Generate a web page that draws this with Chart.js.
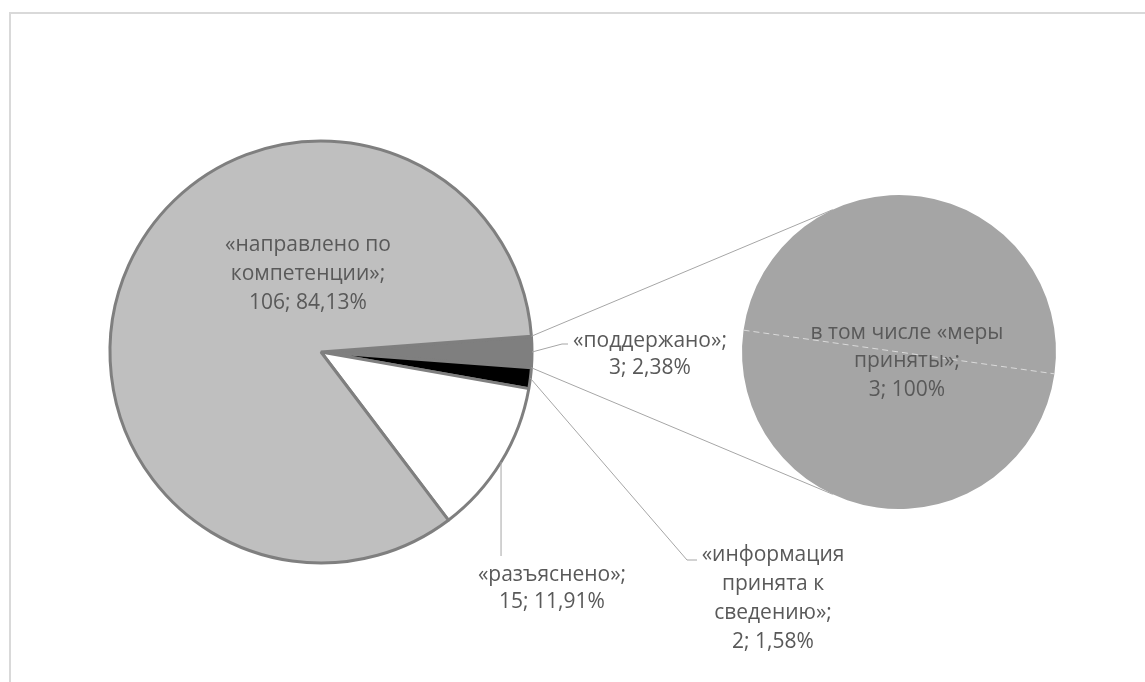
<!DOCTYPE html>
<html><head><meta charset="utf-8">
<script src="https://cdn.jsdelivr.net/npm/chart.js@4.4.0/dist/chart.umd.min.js"></script>
<style>
html,body{margin:0;padding:0;background:#fff;}
#wrap{position:relative;width:1145px;height:682px;overflow:hidden;background:#fff;}
#frame{position:absolute;left:9px;top:12px;width:1300px;height:800px;border-top:2px solid #d9d9d9;border-left:2px solid #d9d9d9;}
.layer{position:absolute;left:0;top:0;width:1145px;height:682px;pointer-events:none;}
canvas{display:block;}
</style></head><body>
<div id="wrap"><div id="frame"></div>
<div class="layer"><canvas id="mainPie"></canvas></div>
<div class="layer"><canvas id="subPie"></canvas></div>
</div>
<script>
// ---- data ----
const categories = ['«поддержано»;', '«информация принята к сведению»;', '«разъяснено»;', '«направлено по компетенции»;'];
const values = [3, 2, 15, 106];
const percentLabels = ['2,38%', '1,58%', '11,91%', '84,13%'];
const subCategories = ['в том числе «меры приняты»;'];
const subValues = [3];
const subPercentLabels = ['100%'];

// ---- styles / layout ----
const sliceColors = ['#7f7f7f', '#000000', '#ffffff', '#bfbfbf'];
const subColor = '#a5a5a5';
const textColor = '#595959';
const lineColor = '#a6a6a6';
const FONT = '21px "Open Sans", "Noto Sans", sans-serif';

// words per line for each label's category text
const mainBreaks = [[1], [1, 2, 1], [1], [2, 1]];
const subBreaks = [[4, 1]];
// label anchor: centre x, first-line centre y, line spacing
const mainLabelPos = [
  {x: 650, y: 341, lh: 27},
  {x: 773, y: 555, lh: 29},
  {x: 552, y: 575, lh: 27},
  {x: 308, y: 245, lh: 29}
];
const subLabelPos = [{x: 907, y: 333, lh: 28.5}];

function buildLines(cat, val, pct, breaks) {
  const words = cat.split(' ');
  const lines = [];
  let i = 0;
  breaks.forEach(n => { lines.push(words.slice(i, i + n).join(' ')); i += n; });
  if (i < words.length) lines.push(words.slice(i).join(' '));
  lines.push(val + '; ' + pct);
  return lines;
}

const total = values.reduce((a, b) => a + b, 0);

const mainChart = new Chart(document.getElementById('mainPie'), {
  type: 'pie',
  data: {
    labels: categories,
    datasets: [{
      data: values,
      backgroundColor: sliceColors,
      borderColor: '#7f7f7f',
      borderWidth: 3,
      hoverOffset: 0
    }]
  },
  options: {
    responsive: true,
    maintainAspectRatio: false,
    animation: false,
    events: [],
    rotation: 90 - values[0] / total * 180,
    radius: 211,
    layout: {padding: {left: 110, right: 613, top: 141, bottom: 119}},
    plugins: {legend: {display: false}, tooltip: {enabled: false}}
  }
});

function edgePoint(arc, ang) {
  return {x: arc.x + arc.outerRadius * Math.cos(ang), y: arc.y + arc.outerRadius * Math.sin(ang)};
}

const overlayPlugin = {
  id: 'overlay',
  afterDraw(chart) {
    const ctx = chart.ctx;
    const mArcs = mainChart.getDatasetMeta(0).data;
    const sArc = chart.getDatasetMeta(0).data[0];
    ctx.save();

    // dashed boundary line across secondary pie
    const a0 = sArc.startAngle;
    ctx.strokeStyle = 'rgba(235,235,235,0.75)';
    ctx.lineWidth = 1;
    ctx.setLineDash([6, 4]);
    ctx.beginPath();
    const pL = edgePoint(sArc, a0 + Math.PI), pR = edgePoint(sArc, a0);
    ctx.moveTo(pL.x, pL.y); ctx.lineTo(pR.x, pR.y);
    ctx.stroke();
    ctx.setLineDash([]);

    // connector lines from "other" slice to secondary pie
    const other = mArcs[0];
    const cA = edgePoint(other, other.startAngle);
    const cB = edgePoint(other, other.endAngle);
    const tA = edgePoint(sArc, -115 * Math.PI / 180);
    const tB = edgePoint(sArc, 115 * Math.PI / 180);
    ctx.strokeStyle = lineColor;
    ctx.lineWidth = 1;
    ctx.beginPath();
    ctx.moveTo(cA.x, cA.y); ctx.lineTo(tA.x, tA.y);
    ctx.moveTo(cB.x, cB.y); ctx.lineTo(tB.x, tB.y);
    ctx.stroke();

    // leader lines
    const mid = i => (mArcs[i].startAngle + mArcs[i].endAngle) / 2;
    let s = edgePoint(mArcs[0], mid(0));
    ctx.beginPath();
    ctx.moveTo(s.x, s.y); ctx.lineTo(562, 344); ctx.lineTo(568, 344);
    ctx.stroke();
    s = edgePoint(mArcs[1], mid(1));
    ctx.beginPath();
    ctx.moveTo(s.x, s.y); ctx.lineTo(687, 560); ctx.lineTo(697, 560);
    ctx.stroke();
    s = edgePoint(mArcs[2], mid(2));
    ctx.beginPath();
    ctx.moveTo(s.x, s.y); ctx.lineTo(s.x, 556);
    ctx.stroke();

    // labels
    ctx.font = FONT;
    ctx.fillStyle = textColor;
    ctx.textAlign = 'center';
    ctx.textBaseline = 'middle';
    categories.forEach((c, i) => {
      const lines = buildLines(c, values[i], percentLabels[i], mainBreaks[i]);
      const p = mainLabelPos[i];
      lines.forEach((t, k) => ctx.fillText(t, p.x, p.y + k * p.lh));
    });
    subCategories.forEach((c, i) => {
      const lines = buildLines(c, subValues[i], subPercentLabels[i], subBreaks[i]);
      const p = subLabelPos[i];
      lines.forEach((t, k) => ctx.fillText(t, p.x, p.y + k * p.lh));
    });
    ctx.restore();
  }
};

new Chart(document.getElementById('subPie'), {
  type: 'pie',
  data: {
    labels: subCategories,
    datasets: [{data: subValues, backgroundColor: subColor, borderWidth: 0, hoverOffset: 0}]
  },
  options: {
    responsive: true,
    maintainAspectRatio: false,
    animation: false,
    events: [],
    rotation: 98,
    radius: 157,
    layout: {padding: {left: 742, right: 89, top: 195, bottom: 173}},
    plugins: {legend: {display: false}, tooltip: {enabled: false}}
  },
  plugins: [overlayPlugin]
});
</script>
</body></html>
